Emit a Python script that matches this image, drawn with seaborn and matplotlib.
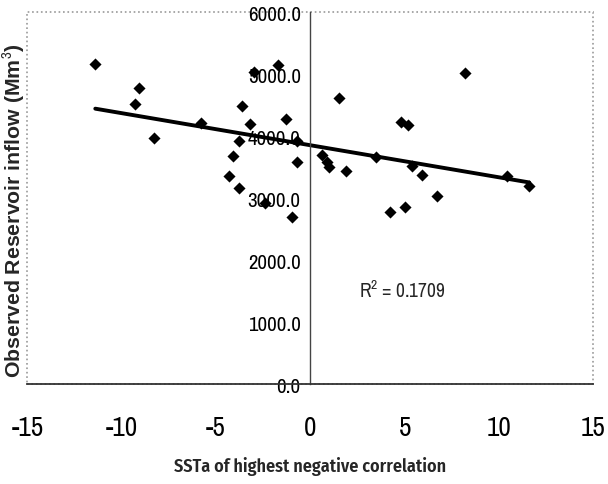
import numpy as np
import pandas as pd
import matplotlib
matplotlib.use("Agg")
import matplotlib.pyplot as plt
import seaborn as sns
from matplotlib.patches import Rectangle
from matplotlib.ticker import FuncFormatter

# SST anomaly vs observed reservoir inflow
ssta = [
    -11.4, -9.1, -9.3, -8.3, -5.8, -3.0, -1.7, -3.6, -3.2, -3.8, -4.1, -4.3,
    -3.8, -2.4, -1.3, -0.7, -0.7, -1.0, 0.6, 0.9, 1.0, 1.5, 1.9, 3.5,
    4.8, 5.2, 5.4, 5.9, 4.2, 5.0, 6.7, 8.2, 10.4, 11.6,
]
inflow = [
    5160, 4780, 4520, 3970, 4210, 5040, 5140, 4480, 4200, 3920, 3680, 3360,
    3170, 2920, 4270, 3920, 3580, 2690, 3700, 3580, 3500, 4610, 3430, 3670,
    4220, 4180, 3510, 3370, 2780, 2850, 3030, 5020, 3360, 3200,
]
x_ticks = [-15, -10, -5, 0, 5, 10, 15]
y_ticks = [0, 1000, 2000, 3000, 4000, 5000, 6000]
r2_label = "R$^2$ = 0.1709"

df = pd.DataFrame({"ssta": ssta, "inflow": inflow})

sns.set_style("white")
narrow = ["Archivo Narrow", "Liberation Sans", "DejaVu Sans"]
narrow_bold = ["Fira Sans Condensed", "Archivo Narrow", "Liberation Sans", "DejaVu Sans"]
plt.rcParams["font.family"] = narrow
plt.rcParams["axes.unicode_minus"] = False
plt.rcParams["mathtext.fontset"] = "custom"
plt.rcParams["mathtext.rm"] = "Archivo Narrow"

fig = plt.figure(figsize=(6.08, 4.85), dpi=100)
ax = fig.add_axes([0.045, 0.206, 0.931, 0.767])

sns.scatterplot(data=df, x="ssta", y="inflow", marker="D", s=38,
                color="black", edgecolor="black", linewidth=0, ax=ax, zorder=3)
sns.regplot(data=df, x="ssta", y="inflow", scatter=False, ci=None,
            truncate=True, color="black", line_kws={"lw": 2.8}, ax=ax)

ax.set_xlim(-15, 15)
ax.set_ylim(0, 6000)
ax.set_xticks(x_ticks)
ax.set_yticks(y_ticks)
ax.yaxis.set_major_formatter(FuncFormatter(lambda v, p: f"{v:.1f}"))

# y axis crossing at x = 0, dotted frame around the plot area
for side in ["top", "right"]:
    ax.spines[side].set_visible(False)
ax.spines["left"].set_position(("data", 0))
ax.spines["left"].set_color("#444444")
ax.spines["left"].set_linewidth(1.0)
ax.spines["bottom"].set_color("#333333")
ax.spines["bottom"].set_linewidth(1.3)
ax.add_patch(Rectangle((0, 0), 1, 1, transform=ax.transAxes, fill=False,
                       edgecolor="#999999", linestyle=":", linewidth=1.2,
                       clip_on=False, zorder=0))

ax.tick_params(axis="x", direction="out", length=5, width=0.8,
               labelsize=19.5, pad=17, colors="#222222")
ax.tick_params(axis="y", direction="out", length=5, width=0.8,
               labelsize=15, pad=2, colors="#222222")
ax.tick_params(axis="both", labelcolor="black")

ax.set_xlabel("SSTa of highest negative correlation", fontsize=13,
              fontweight="semibold", labelpad=12, family=narrow_bold)
ax.set_ylabel("")
fig.text(0.022, 0.565, "Observed Reservoir inflow (Mm$^3$)", rotation=90,
         ha="center", va="center", fontsize=15.3, fontweight="bold",
         family=["Liberation Sans", "DejaVu Sans"])

ax.text(2.6, 1520, r2_label, fontsize=14, ha="left", va="center")

fig.savefig("out.png", dpi=100)
